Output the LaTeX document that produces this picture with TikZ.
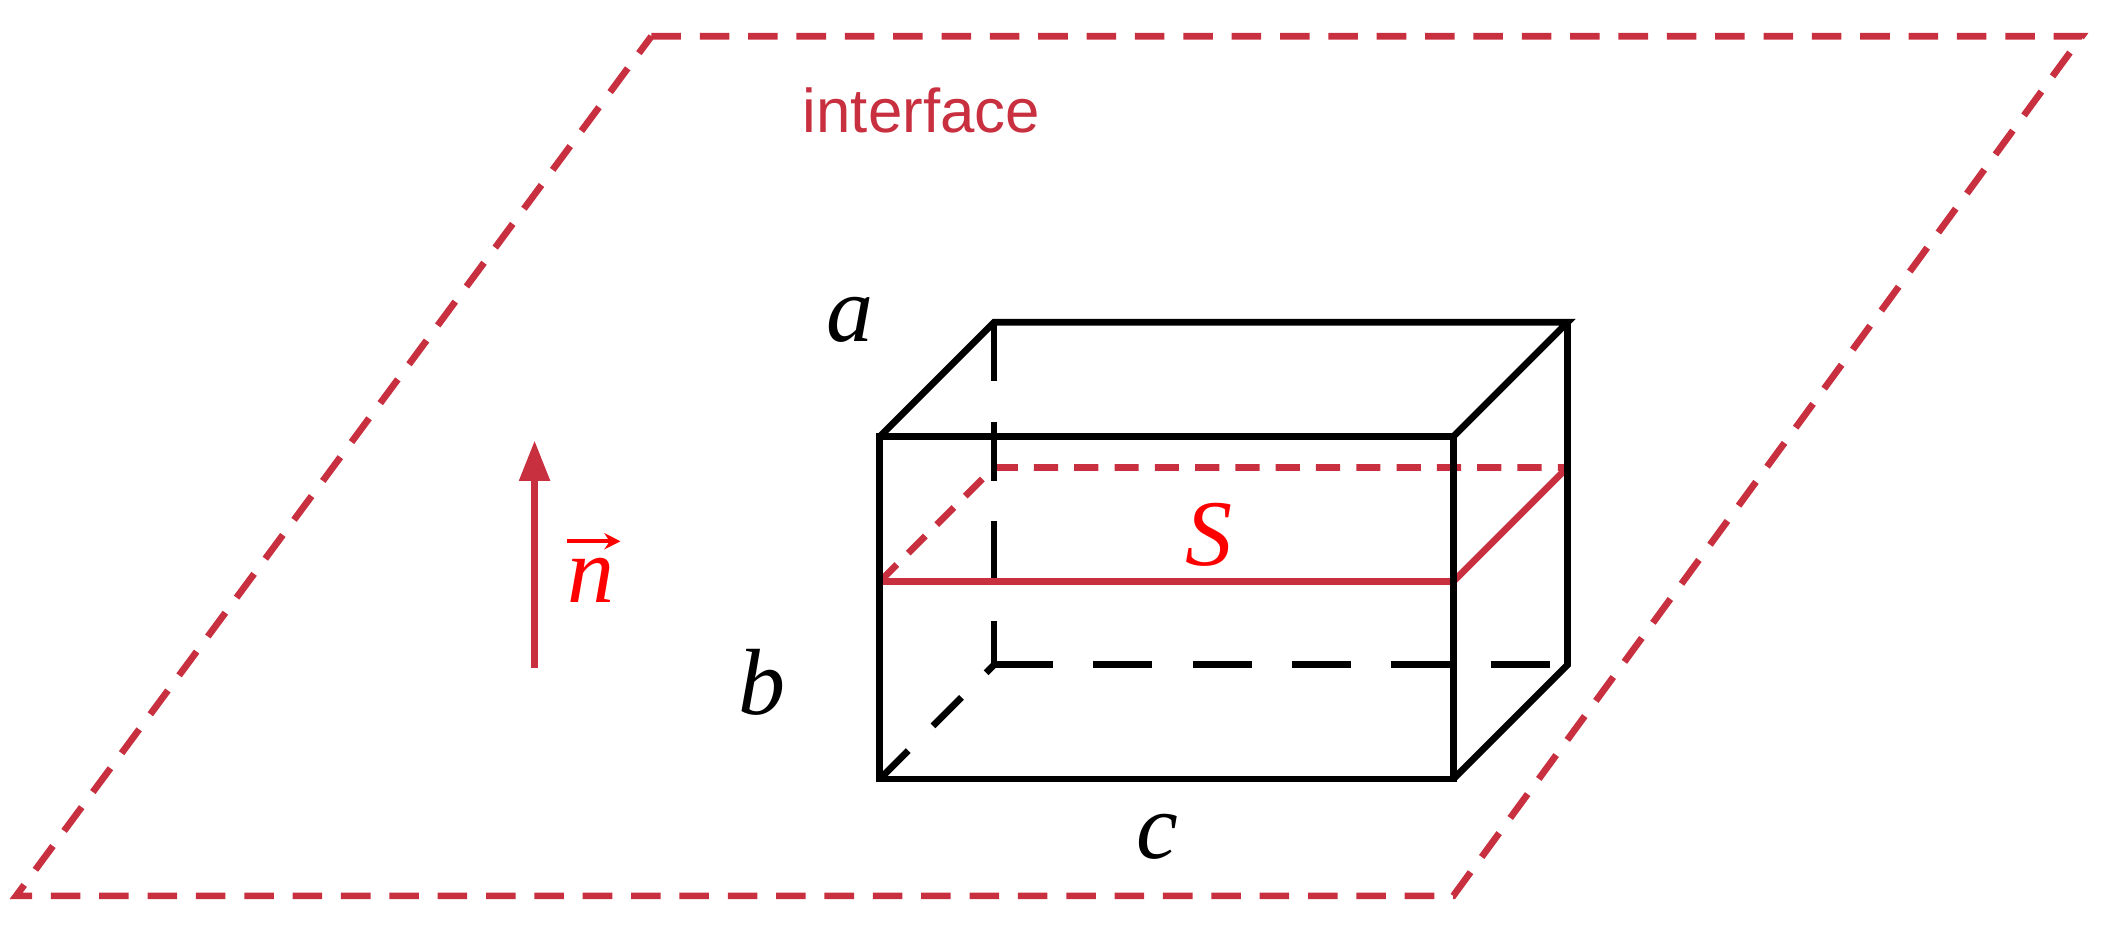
\documentclass[tikz,border=0pt]{standalone}
\usepackage{fontspec}
\setsansfont{Liberation Sans}
\setmainfont{Liberation Serif}
\usetikzlibrary{arrows.meta}
\definecolor{ired}{HTML}{C8303F}
\begin{document}
\begin{tikzpicture}[x=1pt,y=-1pt,
  edge/.style={line width=5pt,black},
  hid/.style={line width=5pt,black,dash pattern=on 26pt off 22pt},
  rdash/.style={line width=5pt,ired,dash pattern=on 22pt off 14pt},
  lbl/.style={font=\fontsize{70}{72}\selectfont\itshape}]
\useasboundingbox (0,0) rectangle (1568,699);
\coordinate (P1) at (485,27); \coordinate (P2) at (1550,27);
\coordinate (P3) at (1082,667); \coordinate (P4) at (12,667);
\draw[rdash] (P1)--(P2)--(P3)--(P4)--cycle;
\node[ired,font=\sffamily\fontsize{46}{48}\selectfont] (iface) at (686,82) {interface};
% box
\coordinate (A) at (655,325); \coordinate (B) at (1082,325);
\coordinate (C) at (1082,580); \coordinate (D) at (655,580);
\coordinate (E) at (740,240); \coordinate (F) at (1167,240);
\coordinate (G) at (1167,495); \coordinate (H) at (740,495);
% S plane
\coordinate (S1) at (655,433); \coordinate (S2) at (1082,433);
\coordinate (S3) at (1167,348); \coordinate (S4) at (740,348);
\draw[line width=5pt,ired,dash pattern=on 18pt off 12pt] (S1)--(S4)--(S3);
\draw[hid,dash pattern=on 44pt off 30pt] (E)--(H);
\draw[hid,dash pattern=on 44pt off 30pt] (H)--(G);
\draw[hid,dash pattern=on 30pt off 26pt] (D)--(H);
\draw[line width=5pt,ired] (S1)--(S2)--(S3);
\draw[edge] (A)--(B)--(C)--(D)--cycle;
\draw[edge] (A)--(E)--(F)--(B);
\draw[edge] (F)--(G)--(C);
\node[lbl,red] (S) at (900,398) {S};
\node[lbl] (a) at (633,238) {a};
\node[lbl] (b) at (567,508) {b};
\node[lbl] (c) at (862,623) {c};
\coordinate (n0) at (398,497); \coordinate (n1) at (398,328);
\draw[line width=5pt,ired,-{Triangle[length=30pt,width=22pt]}] (n0)--(n1);
\node[lbl,red] (n) at (440,432) {n};
\coordinate (v0) at (422,403); \coordinate (v1) at (462,403);
\draw[red,line width=3pt,-{Stealth[length=12pt,width=12pt]}] (v0)--(v1);
\end{tikzpicture}
\end{document}
